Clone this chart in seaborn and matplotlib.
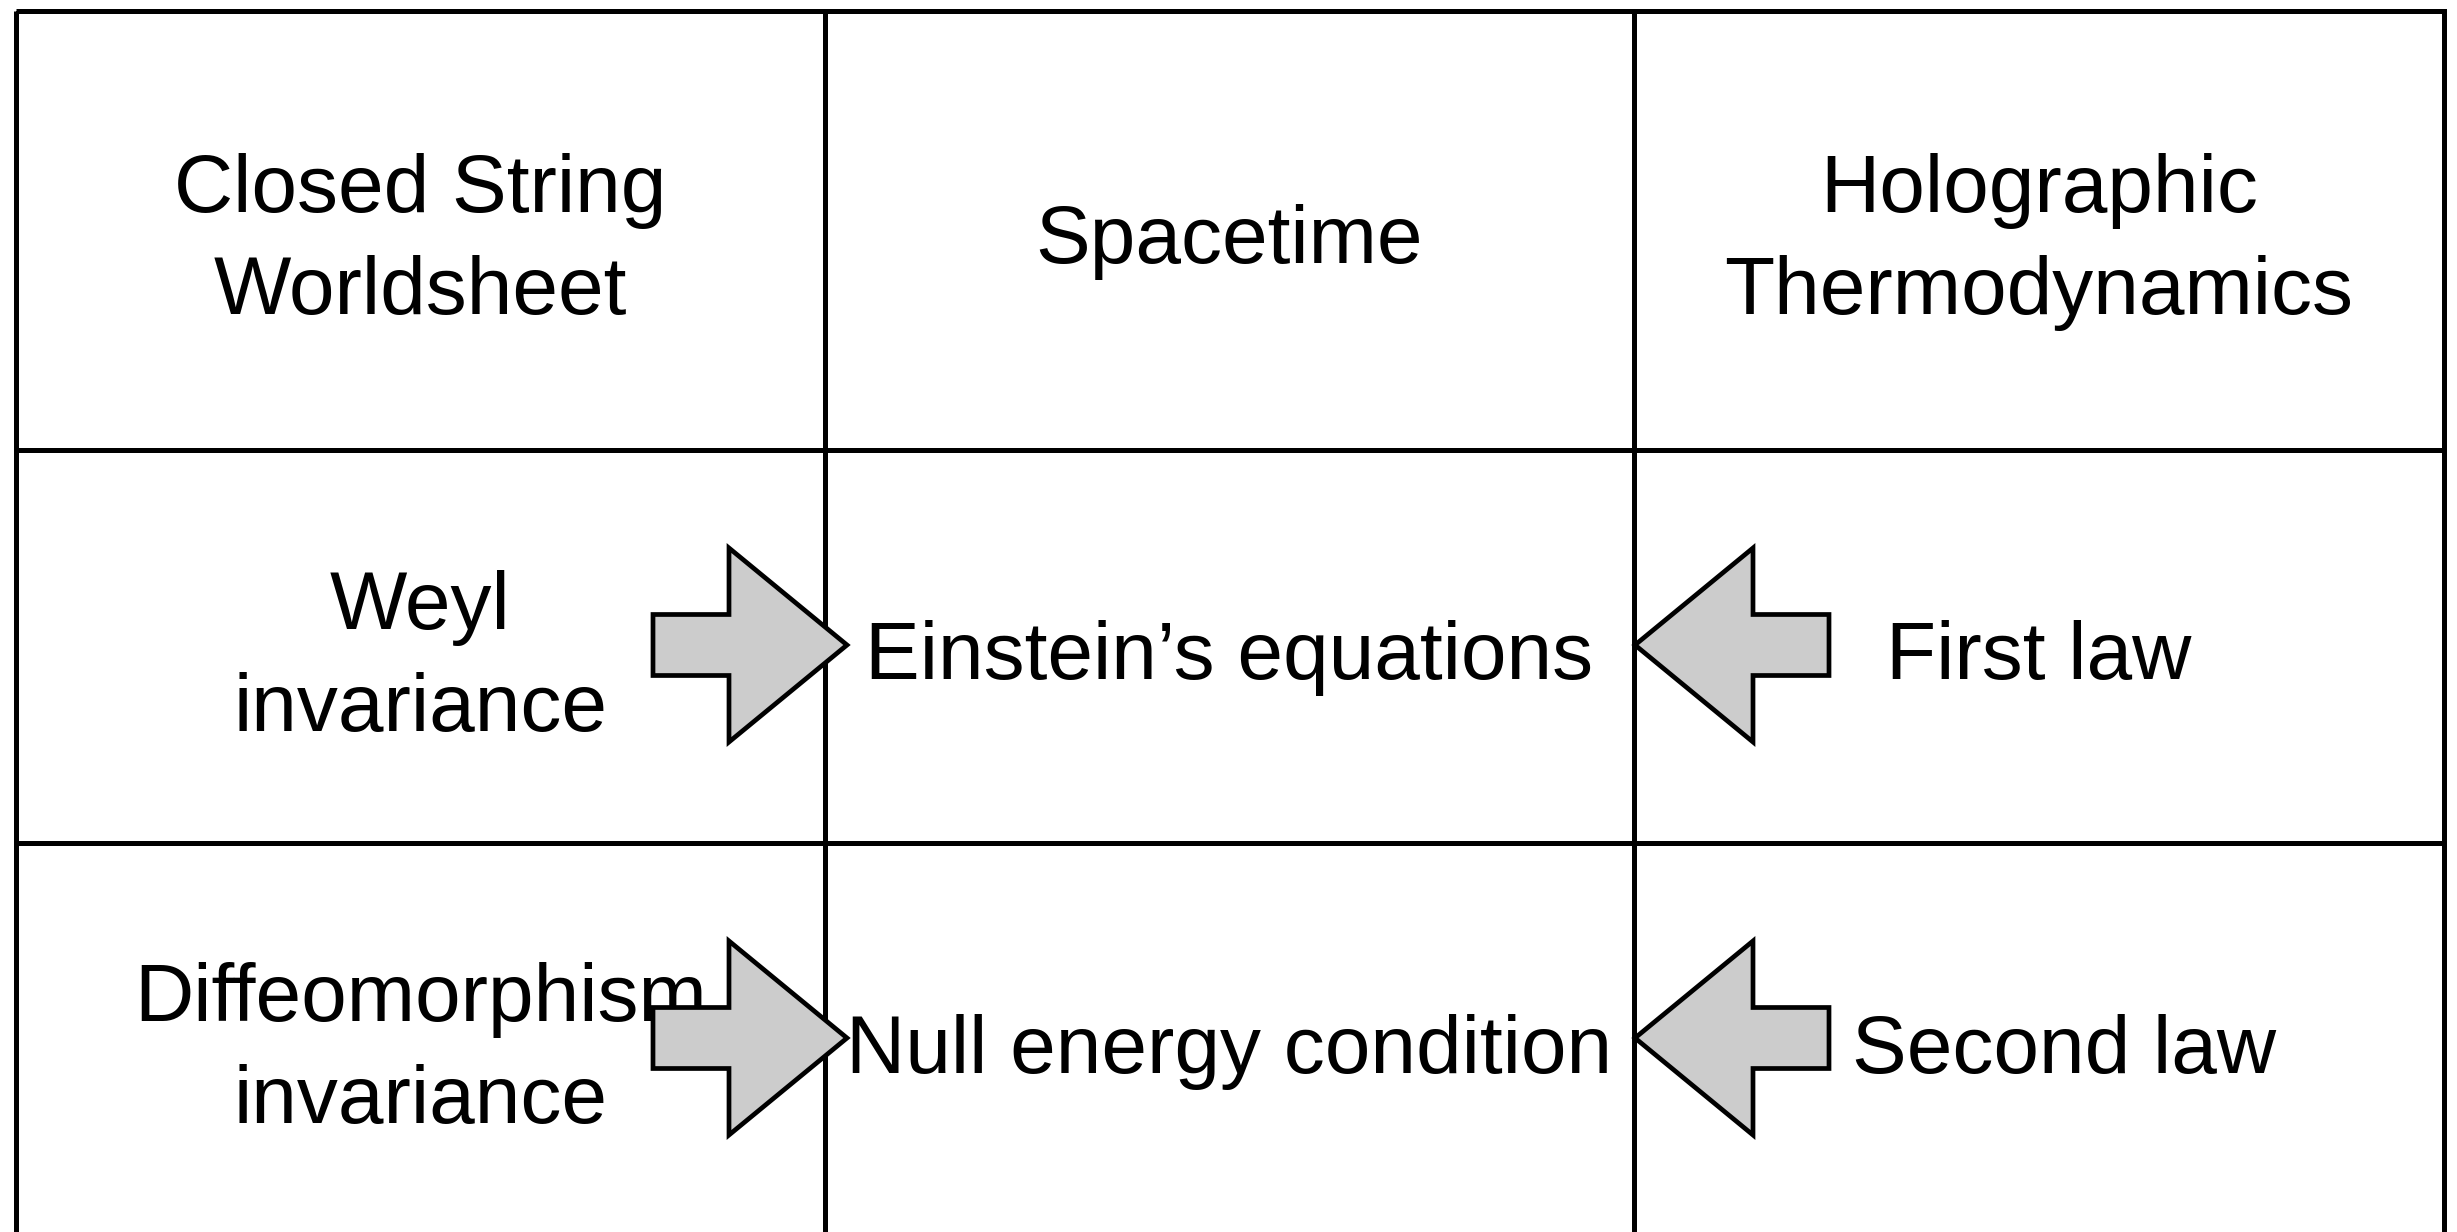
import matplotlib.pyplot as plt
from matplotlib.patches import Polygon, Rectangle
import seaborn as sns

# table text, one list per column (header cell first)
worldsheet = ["Closed String\nWorldsheet", "Weyl\ninvariance", "Diffeomorphism\ninvariance"]
spacetime = ["Spacetime", "Einstein’s equations", "Null energy condition"]
thermo = ["Holographic\nThermodynamics", "First law", "Second law"]
columns = [worldsheet, spacetime, thermo]

# body rows that carry arrows pointing into the middle column
arrow_rows = [1, 2]

# layout, in figure pixels
W, H = 2457, 1232
col_edges = [15.5, 825, 1634, 2443.5]
row_edges = [10.5, 450, 843, 1236]
line_px = 5
font_size = 59
line_pitch = 102
baseline_shift = 33
x_nudge = {"Second law": 25}

# arrow shape: total length, head length, head half height, shaft half height
arr_len, head_len, head_half, shaft_half = 194, 118, 97, 30.5
arr_fill = "#cccccc"

sns.set_theme(style="white")
plt.rcParams["font.family"] = ["Liberation Sans", "DejaVu Sans"]

pt = 72 / 100  # points per pixel at dpi 100

fig = plt.figure(figsize=(W / 100, H / 100), dpi=100)
ax = fig.add_axes([0, 0, 1, 1])
ax.set_xlim(0, W)
ax.set_ylim(H, 0)
ax.axis("off")

# grid
ax.add_patch(Rectangle((col_edges[0], row_edges[0]),
                       col_edges[-1] - col_edges[0],
                       row_edges[-1] - row_edges[0],
                       fill=False, edgecolor="black",
                       linewidth=line_px * pt, joinstyle="miter", zorder=2))
ax.vlines(col_edges[1:-1], row_edges[0], row_edges[-1],
          colors="black", linewidth=line_px * pt, zorder=2)
ax.hlines(row_edges[1:-1], col_edges[0], col_edges[-1],
          colors="black", linewidth=line_px * pt, zorder=2)

# text
for c, labels in enumerate(columns):
    cx = (col_edges[c] + col_edges[c + 1]) / 2
    for r, label in enumerate(labels):
        cy = (row_edges[r] + row_edges[r + 1]) / 2
        parts = label.split("\n")
        first = cy + baseline_shift - (len(parts) - 1) * line_pitch / 2
        for k, part in enumerate(parts):
            ax.text(cx + x_nudge.get(label, 0), first + k * line_pitch, part,
                    ha="center", va="baseline", fontsize=font_size,
                    color="black", zorder=3)


def block_arrow(tip_x, tip_y, direction):
    d = direction
    base = tip_x - d * head_len
    tail = tip_x - d * arr_len
    pts = [(tip_x, tip_y),
           (base, tip_y - head_half),
           (base, tip_y - shaft_half),
           (tail, tip_y - shaft_half),
           (tail, tip_y + shaft_half),
           (base, tip_y + shaft_half),
           (base, tip_y + head_half)]
    ax.add_patch(Polygon(pts, closed=True, facecolor=arr_fill,
                         edgecolor="black", linewidth=4.7 * pt,
                         joinstyle="miter", zorder=4))


for r in arrow_rows:
    cy = (row_edges[r] + row_edges[r + 1]) / 2 - 1.5
    block_arrow(col_edges[1] + 22, cy, 1)
    block_arrow(col_edges[2] + 1, cy, -1)

fig.savefig("out.png", dpi=100, facecolor="white")
